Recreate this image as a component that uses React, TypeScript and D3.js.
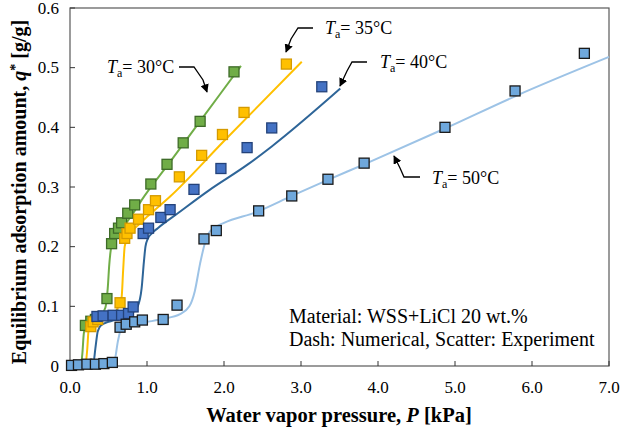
import React from "react";
import * as d3 from "d3";

// ---------- data ----------
const xTicks = [0, 1, 2, 3, 4, 5, 6, 7];
const yTicks = [0, 0.1, 0.2, 0.3, 0.4, 0.5, 0.6];

// Experiment (scatter)
const exp30P = [0.2, 0.27, 0.33, 0.48, 0.54, 0.58, 0.63, 0.67, 0.75, 0.84, 1.05, 1.26, 1.47, 1.69, 2.13];
const exp30Q = [0.068, 0.075, 0.078, 0.113, 0.205, 0.222, 0.231, 0.24, 0.256, 0.27, 0.305, 0.338, 0.374, 0.41, 0.493];

const exp35P = [0.27, 0.3, 0.36, 0.65, 0.71, 0.74, 0.78, 0.89, 1.02, 1.11, 1.42, 1.71, 1.98, 2.26, 2.81];
const exp35Q = [0.066, 0.074, 0.078, 0.106, 0.214, 0.222, 0.231, 0.246, 0.262, 0.277, 0.317, 0.353, 0.388, 0.425, 0.506];

const exp40P = [0.35, 0.43, 0.56, 0.67, 0.76, 0.82, 0.95, 1.02, 1.18, 1.3, 1.61, 1.96, 2.3, 2.62, 3.27];
const exp40Q = [0.083, 0.084, 0.085, 0.085, 0.088, 0.099, 0.222, 0.231, 0.249, 0.262, 0.296, 0.331, 0.366, 0.399, 0.468];

const exp50P = [0.02, 0.11, 0.22, 0.33, 0.44, 0.55, 0.65, 0.73, 0.84, 0.94, 1.21, 1.39, 1.74, 1.9, 2.45, 2.88, 3.35, 3.82, 4.87, 5.78, 6.68];
const exp50Q = [0.001, 0.002, 0.003, 0.003, 0.004, 0.006, 0.065, 0.07, 0.074, 0.077, 0.078, 0.102, 0.213, 0.227, 0.26, 0.285, 0.313, 0.34, 0.4, 0.461, 0.524];

// Numerical (lines)
const sim30P = [0, 0.14, 0.16, 0.18, 0.21, 0.3, 0.4, 0.46, 0.49, 0.51, 0.53, 0.56, 0.62, 0.72, 0.85, 0.93, 1.3, 1.7, 2.22];
const sim30Q = [0, 0.002, 0.02, 0.055, 0.068, 0.076, 0.085, 0.098, 0.13, 0.17, 0.195, 0.21, 0.222, 0.238, 0.262, 0.278, 0.342, 0.412, 0.503];

const sim35P = [0, 0.2, 0.225, 0.24, 0.27, 0.35, 0.45, 0.55, 0.62, 0.67, 0.69, 0.71, 0.74, 0.8, 0.9, 1.0, 1.3, 2.0, 3.01];
const sim35Q = [0, 0.002, 0.03, 0.058, 0.068, 0.075, 0.08, 0.087, 0.097, 0.115, 0.16, 0.2, 0.213, 0.225, 0.238, 0.25, 0.284, 0.377, 0.51];

const sim40P = [0, 0.3, 0.33, 0.36, 0.4, 0.5, 0.6, 0.7, 0.8, 0.88, 0.93, 0.96, 0.98, 1.01, 1.06, 1.14, 1.4, 1.8, 2.3, 2.62, 3.51];
const sim40Q = [0, 0.002, 0.03, 0.058, 0.068, 0.074, 0.078, 0.082, 0.088, 0.1, 0.13, 0.175, 0.2, 0.213, 0.222, 0.231, 0.256, 0.294, 0.337, 0.368, 0.465];

const sim50P = [0, 0.5, 0.58, 0.62, 0.67, 0.8, 1.0, 1.2, 1.43, 1.55, 1.62, 1.69, 1.75, 1.8, 1.88, 2.0, 2.42, 2.88, 3.35, 3.82, 4.87, 5.78, 7.0];
const sim50Q = [0, 0.002, 0.01, 0.04, 0.064, 0.07, 0.074, 0.079, 0.087, 0.1, 0.125, 0.172, 0.205, 0.222, 0.232, 0.24, 0.258, 0.285, 0.312, 0.338, 0.398, 0.452, 0.518];

const seriesNames = ["30", "35", "40", "50"];

// ---------- styles ----------
const W = 621;
const H = 432;
const M = { left: 70, right: 609, top: 8, bottom: 366 };
const FONT = "'Liberation Serif', 'Times New Roman', serif";

const styles = [
  { fill: "#70AD47", stroke: "#3E6B28", line: "#70AD47" },
  { fill: "#FFC000", stroke: "#D49A00", line: "#FFC000" },
  { fill: "#4472C4", stroke: "#23427A", line: "#2E6598" },
  { fill: "#6FA8DC", stroke: "#1A1A1A", line: "#9DC3E6" },
];

export default function App() {
  const x = d3.scaleLinear().domain([0, 7]).range([M.left, M.right]);
  const y = d3.scaleLinear().domain([0, 0.6]).range([M.bottom, M.top]);
  const line = d3
    .line<[number, number]>()
    .x((d) => x(d[0]))
    .y((d) => y(d[1]))
    .curve(d3.curveMonotoneX);

  const sims = [
    [sim30P, sim30Q],
    [sim35P, sim35Q],
    [sim40P, sim40Q],
    [sim50P, sim50Q],
  ];
  const exps = [
    [exp30P, exp30Q],
    [exp35P, exp35Q],
    [exp40P, exp40Q],
    [exp50P, exp50Q],
  ];
  const sq = 10;

  const arrow = (pts: [number, number][], key: string) => (
    <path
      key={key}
      d={d3.line()(pts) || ""}
      fill="none"
      stroke="#000"
      strokeWidth={1.3}
      markerEnd="url(#arrowHead)"
    />
  );

  const taLabel = (tx: number, ty: number, temp: string) => (
    <text x={tx} y={ty} fontFamily={FONT} fontSize={18} fill="#000">
      <tspan fontStyle="italic">T</tspan>
      <tspan fontSize={12} dy={4}>a</tspan>
      <tspan dy={-4}>{"= " + temp + "°C"}</tspan>
    </text>
  );

  return (
    <svg
      width={W}
      height={H}
      style={{ position: "absolute", left: 0, top: 0, background: "#fff" }}
    >
      <defs>
        <marker
          id="arrowHead"
          viewBox="0 0 10 10"
          refX={9}
          refY={5}
          markerWidth={6.5}
          markerHeight={6.5}
          orient="auto-start-reverse"
        >
          <path d="M0,0 L10,5 L0,10 z" fill="#000" />
        </marker>
      </defs>
      <rect x={0} y={0} width={W} height={H} fill="#fff" />

      {/* frame */}
      <rect
        x={M.left}
        y={M.top}
        width={M.right - M.left}
        height={M.bottom - M.top}
        fill="none"
        stroke="#595959"
        strokeWidth={1.2}
      />

      {/* y ticks */}
      {yTicks.map((t) => (
        <g key={"yt" + t}>
          <line x1={M.left} x2={M.left + 5} y1={y(t)} y2={y(t)} stroke="#333" strokeWidth={1} />
          <text
            x={M.left - 11}
            y={y(t) + 5.5}
            textAnchor="end"
            fontFamily={FONT}
            fontSize={17}
            fill="#000"
          >
            {t === 0 ? "0" : t.toFixed(1)}
          </text>
        </g>
      ))}

      {/* x ticks */}
      {xTicks.map((t) => (
        <g key={"xt" + t}>
          <line x1={x(t)} x2={x(t)} y1={M.bottom} y2={M.bottom - 5} stroke="#333" strokeWidth={1} />
          <text
            x={x(t)}
            y={M.bottom + 27}
            textAnchor="middle"
            fontFamily={FONT}
            fontSize={17}
            fill="#000"
          >
            {t.toFixed(1)}
          </text>
        </g>
      ))}

      {/* lines */}
      {sims.map(([ps, qs], i) => (
        <path
          key={"sim" + seriesNames[i]}
          d={line(ps.map((p, k) => [p, qs[k]] as [number, number])) || ""}
          fill="none"
          stroke={styles[i].line}
          strokeWidth={2}
        />
      ))}

      {/* scatter */}
      {exps.map(([ps, qs], i) => (
        <g key={"exp" + seriesNames[i]}>
          {ps.map((p, k) => (
            <rect
              key={k}
              x={x(p) - sq / 2}
              y={y(qs[k]) - sq / 2}
              width={sq}
              height={sq}
              fill={styles[i].fill}
              stroke={styles[i].stroke}
              strokeWidth={1.3}
            />
          ))}
        </g>
      ))}

      {/* annotations */}
      {taLabel(107, 73, "30")}
      {arrow([[179, 67], [194, 67], [203, 80], [207, 92]], "a30")}
      {taLabel(325, 34, "35")}
      {arrow([[313, 28], [298, 28], [291, 39], [286, 52]], "a35")}
      {taLabel(380, 68, "40")}
      {arrow([[367, 62], [352, 62], [347, 71], [340, 86]], "a40")}
      {taLabel(432, 184, "50")}
      {arrow([[420, 177], [404, 177], [400, 168], [394, 156]], "a50")}

      <text x={289} y={323} fontFamily={FONT} fontSize={20} fill="#000">
        Material: WSS+LiCl 20 wt.%
      </text>
      <text x={289} y={346} fontFamily={FONT} fontSize={20} fill="#000">
        Dash: Numerical, Scatter: Experiment
      </text>

      {/* axis titles */}
      <text
        x={339}
        y={422}
        textAnchor="middle"
        fontFamily={FONT}
        fontSize={20.5}
        fontWeight="bold"
        fill="#000"
      >
        Water vapor pressure, <tspan fontStyle="italic">P</tspan> [kPa]
      </text>
      <text
        transform={`translate(26, 192) rotate(-90)`}
        textAnchor="middle"
        fontFamily={FONT}
        fontSize={20}
        fontWeight="bold"
        fill="#000"
      >
        Equilibrium adsorption amount, <tspan fontStyle="italic">q</tspan>
        <tspan dy={-6} fontSize={14}>*</tspan>
        <tspan dy={6}> [g/g]</tspan>
      </text>
    </svg>
  );
}
